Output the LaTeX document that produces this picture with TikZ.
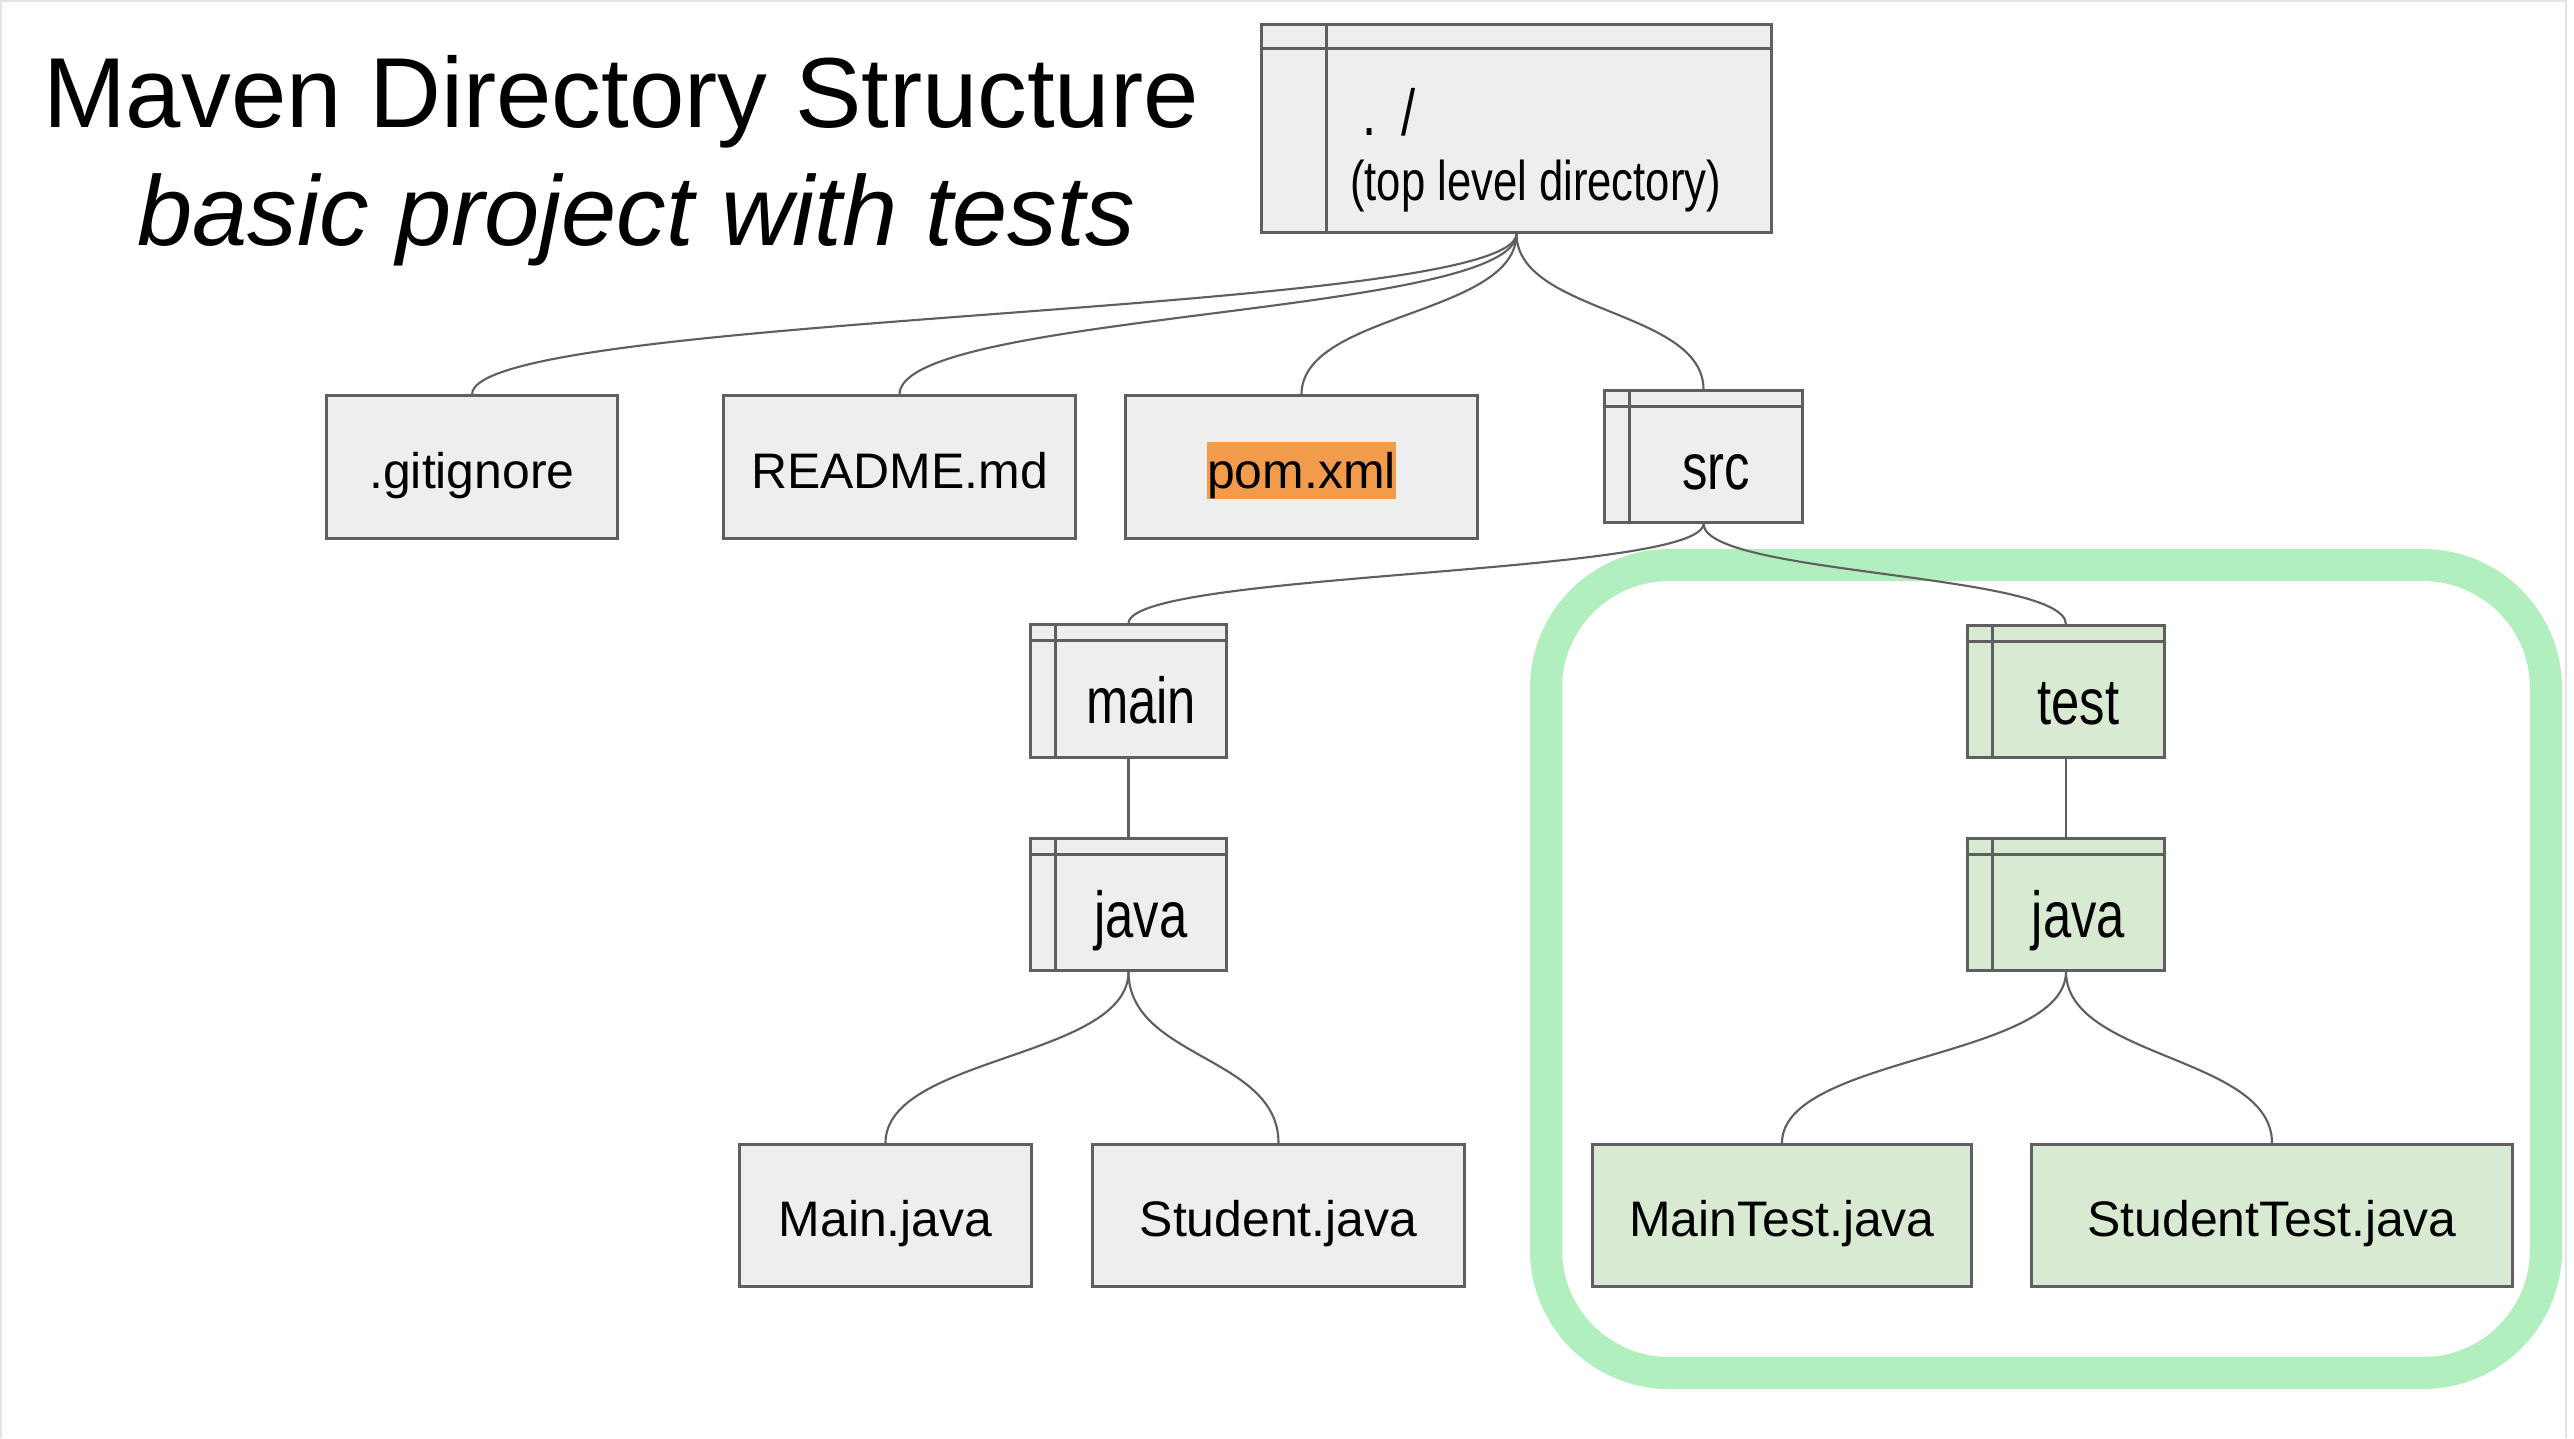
\documentclass[tikz,border=0pt]{standalone}
\usepackage{fontspec}
\setmainfont{Liberation Sans}
\newfontfamily\narrowfont[FakeStretch=0.78]{Liberation Sans}
\usetikzlibrary{positioning}

\definecolor{boxgray}{HTML}{EEEEEE}
\definecolor{boxline}{HTML}{5F5F5F}
\definecolor{testgreen}{HTML}{D9EAD3}
\definecolor{framegreen}{HTML}{B2EFBE}
\definecolor{pomorange}{HTML}{F29B4B}
\definecolor{pageedge}{HTML}{E3E3E3}
\newcommand{\hilite}[1]{{\setlength{\fboxsep}{0pt}\colorbox{pomorange}{\rule[-3pt]{0pt}{16pt}#1}}}

\begin{document}
\begin{tikzpicture}[x=0.01cm, y=-0.01cm]
            \tikzstyle{filebox}=[rectangle, draw=boxline, fill=boxgray, line width=0.85pt, minimum height=1.42cm, inner sep=0pt, text height=15pt, text depth=3pt, font=\fontsize{14.2}{17}\selectfont]
            \tikzstyle{dirname}=[inner sep=0pt, text height=17pt, text depth=3pt, font=\narrowfont\fontsize{18.5}{22}\selectfont]
            \tikzstyle{toptext}=[inner sep=0pt, anchor=base west, font=\narrowfont\fontsize{15.9}{19}\selectfont]
            \tikzstyle{heading}=[inner sep=0pt, anchor=base, font=\fontsize{28.3}{34}\selectfont]
            \tikzstyle{wire}=[draw=boxline, line width=0.6pt]
            \tikzset{folder/.style 2 args={filebox, path picture={
                \draw[boxline, line width=0.85pt] ([yshift=-#1]path picture bounding box.north west) -- ([yshift=-#1]path picture bounding box.north east);
                \draw[boxline, line width=0.85pt] ([xshift=#2]path picture bounding box.north west) -- ([xshift=#2]path picture bounding box.south west);}}}
            \useasboundingbox (0,0) rectangle (2574,1438);
            \fill[white] (0,0) rectangle (2574,1438);
            \draw[pageedge, line width=0.6pt] (1,1438) -- (1,1) -- (2566,1) -- (2566,1438);

            % title
            \node[heading] (title) at (621,127) {Maven Directory Structure};
            \node[heading, font=\fontsize{28.2}{34}\selectfont\itshape] (subtitle) at (636,245) {basic project with tests};

            % tests are grouped
            \draw[framegreen, line width=9.1pt, rounded corners=1.23cm] (1546,565) rectangle (2546,1373);

            % top level
            \node[folder={0.24cm}{0.65cm}, minimum width=5.09cm, minimum height=2.07cm] (top) at (1516.5,128.5) {};
            \node[toptext, font=\narrowfont\fontsize{18.5}{22}\selectfont] (topdot) at ([xshift=1.01cm, yshift=-1.12cm]top.north west) {.\ \,/};
            \node[toptext] (topnote) at ([xshift=0.89cm, yshift=-1.77cm]top.north west) {(top level directory)};

            \node[filebox, minimum width=2.9cm] (gitignore) at (472,467) {.gitignore};
            \node[filebox, minimum width=3.51cm] (readme) at (899.5,467) {README.md};
            \node[filebox, minimum width=3.51cm] (pom) at (1301.5,467) {\hilite{pom.xml}};
            \node[folder={0.16cm}{0.25cm}, minimum width=1.97cm, minimum height=1.31cm] (src) at (1703.5,456.5) {};
            \node[dirname] (srcname) at ([xshift=0.125cm, yshift=-0.08cm]src.center) {src};

            % main branch
            \node[folder={0.16cm}{0.25cm}, minimum width=1.95cm, minimum height=1.32cm] (main) at (1128.5,691) {};
            \node[dirname] (mainname) at ([xshift=0.125cm, yshift=-0.08cm]main.center) {main};
            \node[folder={0.16cm}{0.25cm}, minimum width=1.95cm, minimum height=1.31cm] (mainjava) at (1128.5,904.5) {};
            \node[dirname] (mainjavaname) at ([xshift=0.125cm, yshift=-0.08cm]mainjava.center) {java};
            \node[filebox, minimum width=2.91cm] (mainfile) at (885.5,1215.5) {Main.java};
            \node[filebox, minimum width=3.71cm] (studentfile) at (1278.5,1215.5) {Student.java};

            % test branch
            \node[folder={0.16cm}{0.25cm}, fill=testgreen, minimum width=1.96cm, minimum height=1.31cm] (test) at (2066,691.5) {};
            \node[dirname] (testname) at ([xshift=0.125cm, yshift=-0.08cm]test.center) {test};
            \node[folder={0.16cm}{0.25cm}, fill=testgreen, minimum width=1.96cm, minimum height=1.31cm] (testjava) at (2066,904.5) {};
            \node[dirname] (testjavaname) at ([xshift=0.125cm, yshift=-0.08cm]testjava.center) {java};
            \node[filebox, fill=testgreen, minimum width=3.78cm] (maintestfile) at (1782,1215.5) {MainTest.java};
            \node[filebox, fill=testgreen, minimum width=4.8cm] (studenttestfile) at (2272,1215.5) {StudentTest.java};

            % connectors
            \draw[wire] (top.south) .. controls +(0,82) and +(0,-82) .. (gitignore.north);
            \draw[wire] (top.south) .. controls +(0,82) and +(0,-82) .. (readme.north);
            \draw[wire] (top.south) .. controls +(0,82) and +(0,-82) .. (pom.north);
            \draw[wire] (top.south) .. controls +(0,80) and +(0,-80) .. (src.north);
            \draw[wire] (src.south) .. controls +(0,52) and +(0,-52) .. (main.north);
            \draw[wire] (src.south) .. controls +(0,52) and +(0,-52) .. (test.north);
            \draw[wire] (main) -- (mainjava);
            \draw[wire] (test) -- (testjava);
            \draw[wire] (mainjava.south) .. controls +(0,87) and +(0,-87) .. (mainfile.north);
            \draw[wire] (mainjava.south) .. controls +(0,87) and +(0,-87) .. (studentfile.north);
            \draw[wire] (testjava.south) .. controls +(0,87) and +(0,-87) .. (maintestfile.north);
            \draw[wire] (testjava.south) .. controls +(0,87) and +(0,-87) .. (studenttestfile.north);
\end{tikzpicture}
\end{document}
